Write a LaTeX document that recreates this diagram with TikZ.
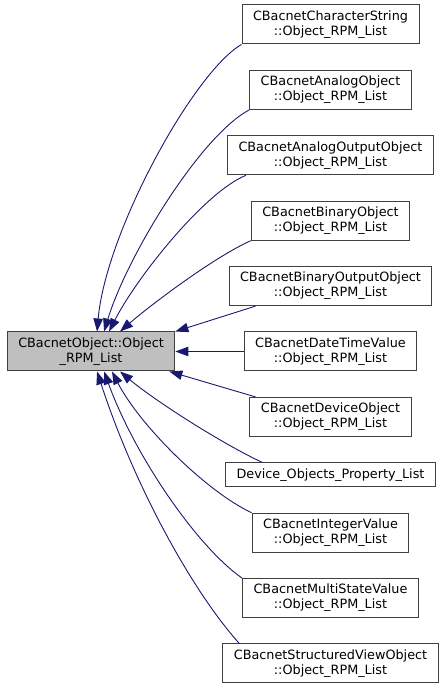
\documentclass[tikz,border=0pt]{standalone}
\usepackage{fontspec}
\setmainfont{DejaVu Sans}
\usepackage{xcolor}
\usepackage{tikz}
\usetikzlibrary{arrows.meta,positioning,calc}
\definecolor{dxedgecol}{HTML}{191970}
\definecolor{dxgray}{HTML}{BFBFBF}
\tikzset{
  dxnode/.style={draw=black!75, line width=1pt, align=center, inner xsep=11pt, inner ysep=2pt, minimum height=39pt, font=\fontsize{12.8}{15}\selectfont, fill=white},
  dxbase/.style={dxnode, fill=dxgray},
  dxarrow/.style={-{Triangle[length=13pt,width=9.5pt]}, draw=dxedgecol, line width=0.9pt}
}

\begin{document}
\begin{tikzpicture}[x=1pt, y=1pt, node distance=25.4pt and 68.3pt]
\useasboundingbox (0,0) rectangle (445,691);
\node[dxnode] (charstr) at (330.5,666.5) {CBacnetCharacterString\\::Object\_RPM\_List};
\node[dxnode, below=of charstr] (analog) {CBacnetAnalogObject\\::Object\_RPM\_List};
\node[dxnode, below=of analog] (analogout) {CBacnetAnalogOutputObject\\::Object\_RPM\_List};
\node[dxnode, below=of analogout] (binary) {CBacnetBinaryObject\\::Object\_RPM\_List};
\node[dxnode, below=of binary] (binaryout) {CBacnetBinaryOutputObject\\::Object\_RPM\_List};
\node[dxnode, below=of binaryout] (datetime) {CBacnetDateTimeValue\\::Object\_RPM\_List};
\node[dxnode, below=of datetime] (device) {CBacnetDeviceObject\\::Object\_RPM\_List};
\node[dxnode, below=of device, minimum height=24pt] (devprop) {Device\_Objects\_Property\_List};
\node[dxnode, below=of devprop] (integer) {CBacnetIntegerValue\\::Object\_RPM\_List};
\node[dxnode, below=of integer] (multistate) {CBacnetMultiStateValue\\::Object\_RPM\_List};
\node[dxnode, below=of multistate] (structview) {CBacnetStructuredViewObject\\::Object\_RPM\_List};
\node[dxbase, left=of datetime] (base) {CBacnetObject::Object\\\_RPM\_List};

\draw[dxarrow] (charstr.south west) to[out=210, in=85, out distance=55pt, in distance=100pt] ($(base.north)+(6,0)$);
\draw[dxarrow] (analog.south west) to[out=208, in=73, out distance=55pt, in distance=80pt] ($(base.north)+(13,0)$);
\draw[dxarrow] ($(analogout.south west)+(19,0)$) to[out=202, in=63, out distance=45pt, in distance=60pt] ($(base.north)+(18,0)$);
\draw[dxarrow] (binary.south west) to[out=204, in=41, out distance=40pt, in distance=40pt] ($(base.north)+(29,0)$);
\draw[dxarrow] ($(binaryout.south west)+(27,0)$) -- (base.north east);
\draw[dxarrow] (datetime.west) -- (base.east);
\draw[dxarrow] ($(device.north west)+(6,0)$) -- ($(base.south east)+(-6,0)$);
\draw[dxarrow] ($(devprop.north west)+(37,0)$) to[out=155, in=320, out distance=45pt, in distance=45pt] ($(base.south)+(29,0)$);
\draw[dxarrow] (integer.north west) to[out=155, in=297, out distance=50pt, in distance=60pt] ($(base.south)+(21,0)$);
\draw[dxarrow] (multistate.north west) to[out=145, in=290, out distance=55pt, in distance=90pt] ($(base.south)+(13,0)$);
\draw[dxarrow] ($(structview.north west)+(17,0)$) to[out=132, in=288, out distance=70pt, in distance=120pt] ($(base.south)+(6,0)$);
\end{tikzpicture}
\end{document}
